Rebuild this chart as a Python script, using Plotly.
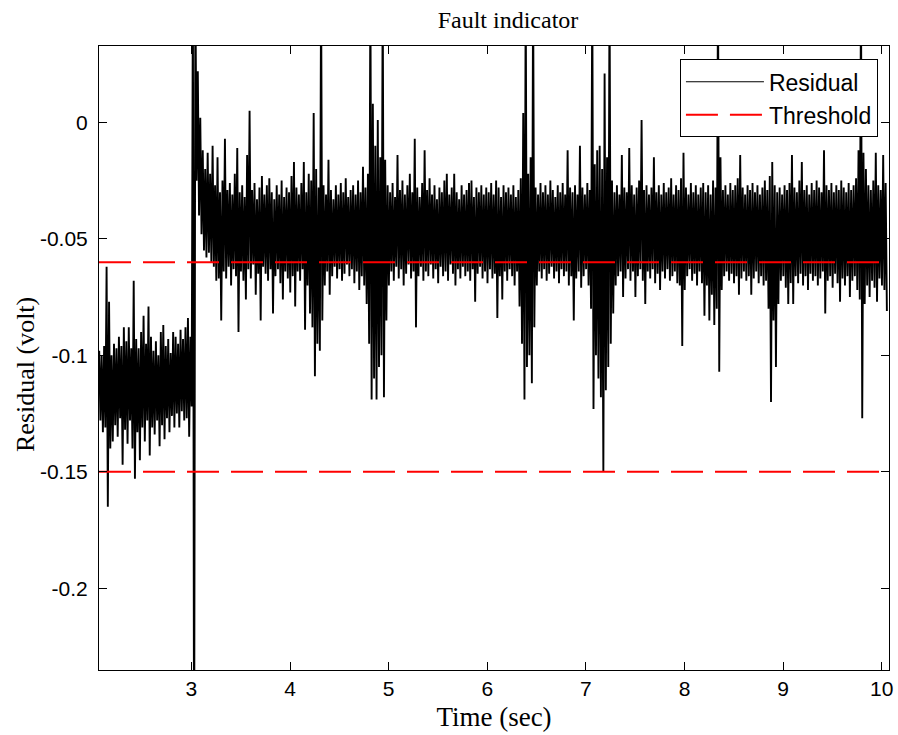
import plotly.graph_objects as go

# ---------------- data ----------------
# Residual signal summarised as the upper / lower extent of the trace in
# consecutive 25 ms windows, in millivolts.
t_first_window = 2.065   # s
window = 0.025           # s

hi_2s = [-98, -100, -96, -62, -77, -100, -95, -97, -92, -96, -88, -94, -88, -97, -68, -93,
         -97, -90, -83, -95, -79, -92, -98, -94, -100, -90, -87, -96, -93, -99, -90, -92,
         -95, -89, -93, -88, -84, -92]
lo_2s = [-128, -133, -131, -165, -140, -137, -130, -135, -127, -147, -132, -138, -128, -140,
         -153, -133, -145, -131, -137, -128, -143, -131, -134, -128, -139, -130, -136, -127,
         -133, -126, -131, -125, -131, -124, -128, -127, -135, -122]

hi_3s = [60, 60, 22, 2, -12, -20, -13, -22, -10, -27, -15, -30, -25, -7, -29, -26, -31, -22,
         -11, -30, -27, -32, -14, 5, -29, -26, -33, -28, -23, -31, -27, -24, -30, -33, -27,
         -31, -25, -32, -28, -30]
lo_3s = [-300, -25, -40, -48, -55, -58, -56, -60, -62, -68, -67, -85, -64, -67, -62, -70,
         -63, -66, -90, -64, -68, -76, -63, -67, -61, -74, -65, -85, -62, -65, -68, -63,
         -82, -66, -63, -69, -76, -64, -67, -73]

hi_4s = [-23, -17, -28, -31, -26, -17, -30, -22, -25, 4, -20, -28, 60, -27, -31, -16, -29,
         -33, -27, -31, -26, -30, -24, -32, -29, -27, -31, -25, -30, -19, -28, -22, 60, 8,
         -10, 1, -15, 60, -16, -27]
lo_4s = [-66, -79, -64, -68, -63, -89, -70, -82, -88, -109, -95, -98, -85, -70, -64, -74,
         -66, -62, -67, -63, -68, -65, -61, -66, -63, -69, -64, -72, -66, -70, -78, -95,
         -119, -110, -119, -105, -100, -118, -85, -70]

hi_5s = [-30, -26, -32, -14, -29, -25, -31, -27, -22, -30, -7, -28, -32, -26, -12, -29, -24,
         -31, -27, -33, -28, -30, -25, -22, -31, -28, -22, -30, -33, -27, -31, -29, -26, -25,
         -32, -28, -30, -27, -31, -28]
lo_5s = [-64, -68, -62, -67, -63, -70, -65, -61, -67, -64, -88, -66, -62, -68, -64, -66,
         -61, -67, -63, -69, -62, -66, -64, -68, -61, -65, -70, -63, -67, -62, -66, -64,
         -68, -63, -77, -65, -62, -67, -64, -69]

hi_6s = [-30, -26, -31, -25, -28, -32, -27, -30, -28, -31, -27, -32, -29, -24, 4, 60, -22,
         -15, 60, -28, -31, -26, -30, -27, -31, -25, -29, -32, -27, -30, -26, -31, -12, -28,
         -30, -27, -31, -10, -28, -31]
lo_6s = [-63, -67, -65, -84, -66, -76, -64, -68, -63, -66, -70, -64, -79, -95, -119, -105,
         -100, -112, -88, -70, -64, -67, -63, -68, -65, -62, -67, -64, -69, -63, -66, -64,
         -70, -66, -85, -67, -64, -71, -66, -63]

hi_7s = [-26, -29, 60, -18, -12, -10, -20, 21, -15, 60, -25, -30, -27, -31, -14, -28, -30,
         -11, -27, -31, -28, -25, 1, -29, -27, -31, -28, -15, -30, -27, -31, -26, -30, -28,
         -24, -31, -27, -29, -24, -13]
lo_7s = [-70, -80, -123, -100, -110, -118, -150, -115, -105, -95, -82, -70, -66, -64, -75,
         -67, -63, -68, -64, -75, -66, -63, -68, -78, -64, -67, -63, -69, -65, -72, -64,
         -67, -63, -68, -66, -64, -69, -70, -96, -72]

hi_8s = [-28, -31, -26, -30, -27, -31, -28, -26, -30, -27, -31, -25, -28, 60, -15, -29, -27,
         -31, -26, -29, -27, -24, -14, -28, -31, -27, -29, -26, -30, -27, -31, -28, -25, -29,
         -23, -17, -27, -30, -28, -31]
lo_8s = [-66, -63, -68, -65, -70, -64, -69, -83, -70, -85, -74, -87, -80, -107, -72, -66,
         -64, -68, -65, -69, -66, -74, -67, -64, -68, -66, -74, -67, -64, -69, -66, -70,
         -68, -80, -120, -85, -105, -78, -68, -66]

hi_9s = [-27, -29, -26, -14, -28, -30, -25, -17, -29, -27, -31, -26, -29, -25, -28, -30, -12,
         -27, -29, -26, -30, -27, -29, -25, -28, -30, -26, -29, -27, -24, -12, 60, -13, -20,
         -27, -29, -25, -13, -27, -29, -14, -26]
lo_9s = [-71, -78, -69, -78, -66, -69, -65, -70, -66, -72, -65, -68, -66, -70, -67, -64,
         -82, -68, -66, -71, -65, -69, -77, -67, -70, -66, -75, -68, -66, -72, -76, -127,
         -78, -70, -75, -68, -71, -77, -67, -70, -72, -81]

thresholds = [-0.06, -0.15]          # volt
time_span = [2.063, 10.074]          # s (recorded interval)

x_ticks = [3, 4, 5, 6, 7, 8, 9, 10]
x_ticktext = ["3", "4", "5", "6", "7", "8", "9", "10"]
y_ticks = [-0.2, -0.15, -0.1, -0.05, 0]
y_ticktext = ["-0.2", "-0.15", "-0.1", "-0.05", "0"]

# ---------------- build traces ----------------
hi_mv = hi_2s + hi_3s + hi_4s + hi_5s + hi_6s + hi_7s + hi_8s + hi_9s
lo_mv = lo_2s + lo_3s + lo_4s + lo_5s + lo_6s + lo_7s + lo_8s + lo_9s

t_res, v_res = [], []
for i, (h, l) in enumerate(zip(hi_mv, lo_mv)):
    t0 = t_first_window + i * window
    t_res += [t0, t0 + window / 2]
    v_res += [h / 1000.0, l / 1000.0]

t_thr, v_thr = [], []
for th in thresholds:
    t_thr += [time_span[0], time_span[1], None]
    v_thr += [th, th, None]

SANS = "Liberation Sans, Arial, sans-serif"
SERIF = "Liberation Serif, Times New Roman, serif"

fig = go.Figure()
fig.add_trace(go.Scatter(x=t_res, y=v_res, mode="lines", name="Residual",
                         legendgroup="res", showlegend=False,
                         line=dict(color="black", width=1.9, simplify=False)))
# legend key for the residual, drawn with the thin line of the original key
fig.add_trace(go.Scatter(x=[None], y=[None], mode="lines", name="Residual",
                         legendgroup="res", line=dict(color="black", width=1.2)))
fig.add_trace(go.Scatter(x=t_thr, y=v_thr, mode="lines", name="Threshold",
                         line=dict(color="#ff0000", width=2, dash="32px,12px")))

axis_common = dict(showline=True, linecolor="black", linewidth=1, mirror="ticks",
                   ticks="inside", ticklen=8, tickcolor="black", tickwidth=1,
                   showgrid=False, zeroline=False,
                   tickfont=dict(family=SANS, size=21, color="black"))

fig.update_xaxes(range=[2.063, 10.074], tickmode="array", tickvals=x_ticks,
                 ticktext=x_ticktext, ticklabelstandoff=0,
                 title=dict(text="Time (sec)", font=dict(family=SERIF, size=27, color="black"),
                            standoff=7),
                 **axis_common)
fig.update_yaxes(range=[-0.2351, 0.0328], tickmode="array", tickvals=y_ticks,
                 ticktext=y_ticktext, ticklabelstandoff=6,
                 **axis_common)

fig.update_layout(
    width=898, height=735,
    margin=dict(l=99, r=9, t=46, b=65, autoexpand=False),
    paper_bgcolor="white", plot_bgcolor="white",
    title=dict(text="Fault indicator", x=(508 - 99) / 790, xref="paper", xanchor="center",
               y=1 - 20 / 735, yref="container", yanchor="middle",
               font=dict(family=SERIF, size=24, color="black")),
    legend=dict(x=0.986, xanchor="right", y=0.9787, yanchor="top",
                bgcolor="white", bordercolor="black", borderwidth=1,
                font=dict(family=SANS, size=23, color="black"),
                itemwidth=78, tracegroupgap=0),
    annotations=[dict(text="Residual (volt)", textangle=-90, showarrow=False,
                      xref="paper", yref="paper", x=(25 - 99) / 790, y=(670 - 375) / 624,
                      xanchor="center", yanchor="middle",
                      font=dict(family=SERIF, size=26, color="black"))],
)

fig.write_html("out.html")
